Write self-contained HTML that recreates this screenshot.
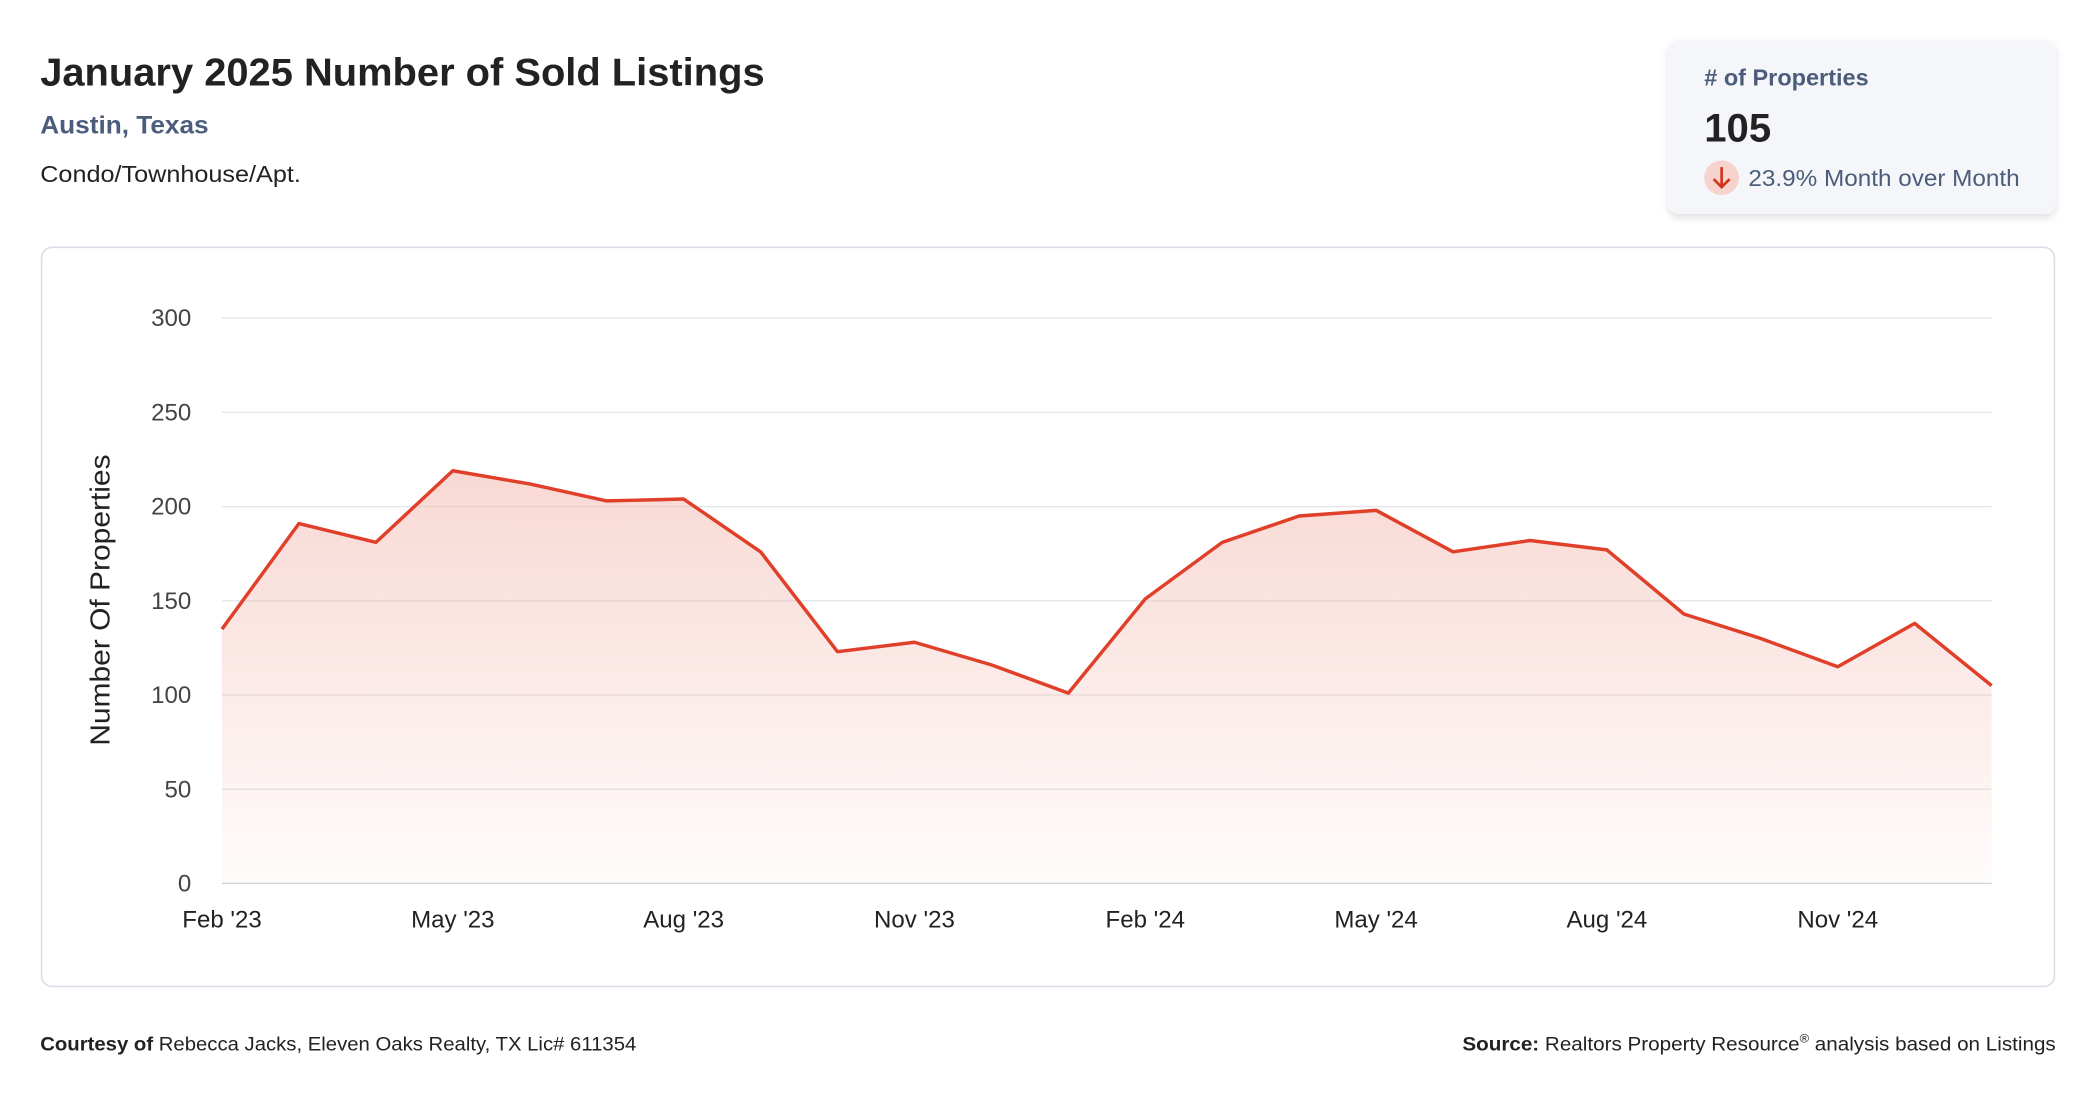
<!DOCTYPE html>
<html><head><meta charset="utf-8"><style>
html,body{margin:0;padding:0;background:#fff;width:2096px;height:1100px;overflow:hidden}
svg text{font-family:"Liberation Sans",Arial,sans-serif}
</style></head><body>
<svg id="page" width="2096" height="1100" viewBox="0 0 1568 823" xmlns="http://www.w3.org/2000/svg">
<defs>
<linearGradient id="fillg" x1="0" y1="0" x2="0" y2="1">
<stop offset="0" stop-color="#f3b9b0" stop-opacity="0.55"/>
<stop offset="1" stop-color="#f3b9b0" stop-opacity="0.05"/>
</linearGradient>
<filter id="sh" x="-10%" y="-10%" width="130%" height="140%"><feDropShadow dx="0" dy="3" stdDeviation="3" flood-color="#000" flood-opacity="0.12"/></filter>
</defs>
<text x="30" y="64" font-size="29" font-weight="bold" fill="#222" textLength="542" lengthAdjust="spacingAndGlyphs">January 2025 Number of Sold Listings</text>
<text x="30" y="100" font-size="19" font-weight="bold" fill="#4b5d7a" textLength="126" lengthAdjust="spacingAndGlyphs">Austin, Texas</text>
<text x="30" y="136" font-size="17" fill="#222" textLength="195" lengthAdjust="spacingAndGlyphs">Condo/Townhouse/Apt.</text>

<g>
<rect x="1248" y="30" width="290" height="130" rx="8" fill="#f5f6fa" filter="url(#sh)"/>
<text x="1275" y="64" font-size="17.5" font-weight="bold" fill="#4b5d7a" textLength="123" lengthAdjust="spacingAndGlyphs"># of Properties</text>
<text x="1275" y="106" font-size="30" font-weight="bold" fill="#222">105</text>
<circle cx="1288" cy="133" r="13" fill="#f6d3cc"/>
<path d="M1288 125 V140 M1282 134 L1288 140 L1294 134" stroke="#d0371f" stroke-width="2" fill="none"/>
<text x="1308" y="139" font-size="17.5" fill="#4b5d7a" textLength="203" lengthAdjust="spacingAndGlyphs">23.9% Month over Month</text>
</g>

<rect x="31" y="185" width="1506" height="553" rx="8" fill="#fff" stroke="#d8dee8" stroke-width="1.2"/>
<g id="grid"></g>
<g id="series"></g>
<g id="xlabels"></g>
<text transform="translate(82,449) rotate(-90)" text-anchor="middle" font-size="21" fill="#222" textLength="218" lengthAdjust="spacingAndGlyphs">Number Of Properties</text>

<text x="30" y="786" font-size="14.5" fill="#222" textLength="446" lengthAdjust="spacingAndGlyphs"><tspan font-weight="bold">Courtesy of</tspan> Rebecca Jacks, Eleven Oaks Realty, TX Lic# 611354</text>
<text x="1094" y="786" font-size="14.5" fill="#222" textLength="444" lengthAdjust="spacingAndGlyphs"><tspan font-weight="bold">Source:</tspan> Realtors Property Resource<tspan font-size="9" dy="-6">®</tspan><tspan dy="6"> analysis based on Listings</tspan></text>
</svg>
<script>
const months = ["Feb '23","Mar '23","Apr '23","May '23","Jun '23","Jul '23","Aug '23","Sep '23","Oct '23","Nov '23","Dec '23","Jan '24","Feb '24","Mar '24","Apr '24","May '24","Jun '24","Jul '24","Aug '24","Sep '24","Oct '24","Nov '24","Dec '24","Jan '25"];
const soldCounts = [135,191,181,219,212,203,204,176,123,128,116,101,151,181,195,198,176,182,177,143,130,115,138,105];
const yTicks = [0,50,100,150,200,250,300];
const xTickLabels = ["Feb '23","May '23","Aug '23","Nov '23","Feb '24","May '24","Aug '24","Nov '24"];

const NS="http://www.w3.org/2000/svg";
const x0=166,x1=1490,yBase=661,yTop=238,yMax=300;
const xs=i=>x0+(x1-x0)*i/(months.length-1);
const ys=v=>yBase-(yBase-yTop)*v/yMax;
function mk(tag,attrs,parent){const e=document.createElementNS(NS,tag);for(const k in attrs)e.setAttribute(k,attrs[k]);parent.appendChild(e);return e;}
const grid=document.getElementById('grid'),series=document.getElementById('series'),xl=document.getElementById('xlabels');
yTicks.forEach(t=>{
  const l=mk('line',{x1:x0,x2:x1,y1:ys(t),y2:ys(t),stroke:t===0?'#cfd4dc':'#e3e6eb','stroke-width':1},grid);
  
  
  const tx=mk('text',{x:143,y:ys(t)+6,'text-anchor':'end','font-size':18,fill:'#444'},grid);
  tx.textContent=t;
  
  
});
xTickLabels.forEach(lbl=>{
  const i=months.indexOf(lbl);
  const tx=mk('text',{x:xs(i),y:694,'text-anchor':'middle','font-size':18,fill:'#222'},xl);
  tx.textContent=lbl;
  
  
});
let pts=soldCounts.map((v,i)=>xs(i)+','+ys(v));
const area=mk('path',{d:'M'+xs(0)+','+yBase+' L'+pts.join(' L')+' L'+xs(soldCounts.length-1)+','+yBase+' Z',fill:'url(#fillg)'},series);


const line=mk('polyline',{points:pts.join(' '),fill:'none',stroke:'#e0402a','stroke-width':2.6,'stroke-linejoin':'round'},series);


</script>
</body></html>
